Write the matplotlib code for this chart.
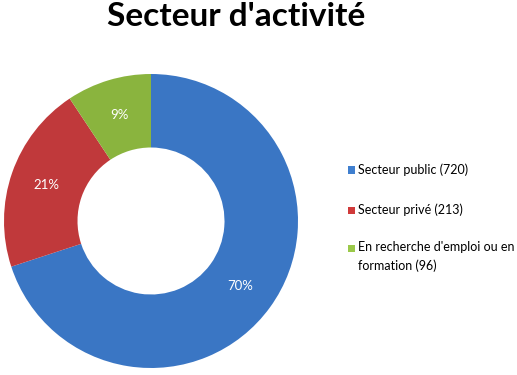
import matplotlib
matplotlib.use("Agg")
import matplotlib.pyplot as plt
from matplotlib.patches import Rectangle

plt.rcParams['font.family'] = ['Lato', 'DejaVu Sans']

categories = ["Secteur public (720)", "Secteur privé (213)",
              "En recherche d'emploi ou en\nformation (96)"]
values = [720, 213, 96]
colors = ['#3a76c4', '#c0393b', '#8ab43e']
legend_colors = ['#3f7fcf', '#d03a3a', '#9bc94a']

W, H = 517, 375
fig = plt.figure(figsize=(W / 100, H / 100), dpi=100)

# pie centre (151, 221) px, radius 147 px
cx, cy, r = 151, 221, 147
ax = fig.add_axes([(cx - r) / W, (H - cy - r) / H, 2 * r / W, 2 * r / H])
wedges, texts, autotexts = ax.pie(
    values, colors=colors, startangle=90, counterclock=False,
    autopct='%1.0f%%', pctdistance=0.75, radius=1,
    wedgeprops=dict(width=0.5, linewidth=0),
    textprops=dict(color='white', fontsize=9.5))
ax.set_xlim(-1, 1)
ax.set_ylim(-1, 1)
ax.set_aspect('equal')

fig.text(236 / W, 1 - 17 / H, "Secteur d'activité", ha='center', va='center',
         fontsize=24, fontweight='bold')

# legend
rows = [170, 210, 248]
for lab, col, y in zip(categories, legend_colors, rows):
    fig.add_artist(Rectangle((348 / W, 1 - (y + 3.5) / H), 7 / W, 7 / H,
                             transform=fig.transFigure, color=col, lw=0))
    fig.text(358 / W, 1 - (y - 7) / H, lab, ha='left', va='top',
             fontsize=9, linespacing=1.6)

fig.savefig("out.png", dpi=100)
